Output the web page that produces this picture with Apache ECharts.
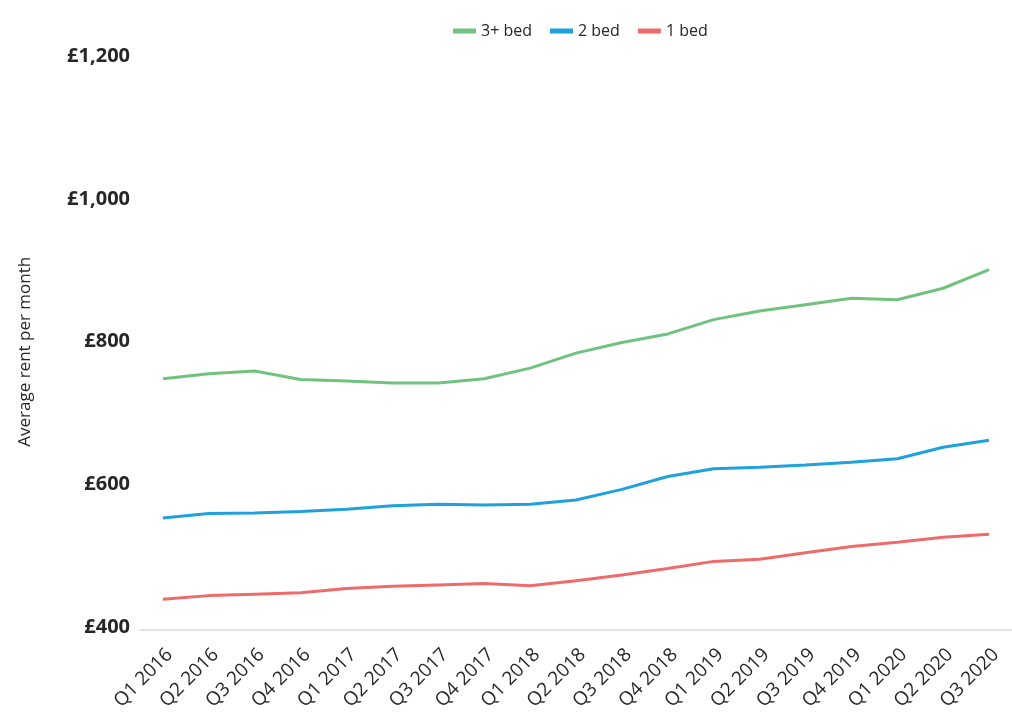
<!DOCTYPE html>
<html>
<head>
<meta charset="utf-8">
<script src="https://cdn.jsdelivr.net/npm/echarts@6/dist/echarts.min.js"></script>
<style>
  html, body { margin: 0; padding: 0; background: #ffffff; }
  #chart { width: 1012px; height: 717px; }
</style>
</head>
<body>
<div id="chart"></div>
<script>
// Quarterly average monthly rent by property size
const quarters = [
  'Q1 2016', 'Q2 2016', 'Q3 2016', 'Q4 2016',
  'Q1 2017', 'Q2 2017', 'Q3 2017', 'Q4 2017',
  'Q1 2018', 'Q2 2018', 'Q3 2018', 'Q4 2018',
  'Q1 2019', 'Q2 2019', 'Q3 2019', 'Q4 2019',
  'Q1 2020', 'Q2 2020', 'Q3 2020'
];
const bed3Plus = [748, 755, 759, 747, 745, 742, 742, 748, 763, 784, 799, 811, 831, 843, 852, 861, 859, 875, 901];
const bed2 = [553, 559, 560, 562, 565, 570, 572, 571, 572, 578, 593, 611, 622, 624, 627, 631, 636, 652, 662];
const bed1 = [439, 444, 446, 448, 454, 457, 459, 461, 458, 465, 473, 482, 492, 495, 504, 513, 519, 526, 530];
const yTicks = [400, 600, 800, 1000, 1200];

const FONT = '"Open Sans", "Noto Sans", sans-serif';
const TEXT_COLOR = '#262626';
const chart = echarts.init(document.getElementById('chart'), null, { renderer: 'canvas' });

function lineSeries(name, data, color) {
  return {
    name: name,
    type: 'line',
    data: data,
    symbol: 'none',
    smooth: false,
    lineStyle: { color: color, width: 3 },
    itemStyle: { color: color }
  };
}

chart.setOption({
  animation: false,
  backgroundColor: '#ffffff',
  textStyle: { fontFamily: FONT },
  legend: {
    top: 23,
    left: 453,
    padding: 0,
    itemWidth: 23,
    itemHeight: 5,
    itemGap: 18,
    icon: 'rect',
    textStyle: { fontSize: 16, color: TEXT_COLOR, fontFamily: FONT },
    data: ['3+ bed', '2 bed', '1 bed']
  },
  grid: { left: 140, right: -1, top: 56.5, bottom: 90 },
  xAxis: {
    type: 'category',
    data: quarters,
    boundaryGap: true,
    offset: 3,
    axisLine: { show: true, lineStyle: { color: '#d9d9d9', width: 1.5 } },
    axisTick: { show: false },
    axisLabel: {
      rotate: 45,
      interval: 0,
      margin: 15,
      align: 'right',
      verticalAlign: 'top',
      fontSize: 19,
      color: TEXT_COLOR,
      fontFamily: FONT
    },
    splitLine: { show: false }
  },
  yAxis: {
    type: 'value',
    min: yTicks[0],
    max: yTicks[yTicks.length - 1],
    interval: 200,
    name: 'Average rent per month',
    nameLocation: 'middle',
    nameGap: 106,
    nameTextStyle: { fontSize: 17, color: TEXT_COLOR, fontFamily: FONT, padding: [0, 20, 0, 0] },
    axisLine: { show: false },
    axisTick: { show: false },
    splitLine: { show: false },
    axisLabel: {
      margin: 10,
      fontSize: 20,
      fontWeight: 'bold',
      color: TEXT_COLOR,
      fontFamily: FONT,
      formatter: v => '£' + v.toLocaleString('en-GB')
    }
  },
  series: [
    lineSeries('3+ bed', bed3Plus, '#72c27f'),
    lineSeries('2 bed', bed2, '#1fa1dc'),
    lineSeries('1 bed', bed1, '#ef6a6a')
  ]
});
</script>
</body>
</html>
